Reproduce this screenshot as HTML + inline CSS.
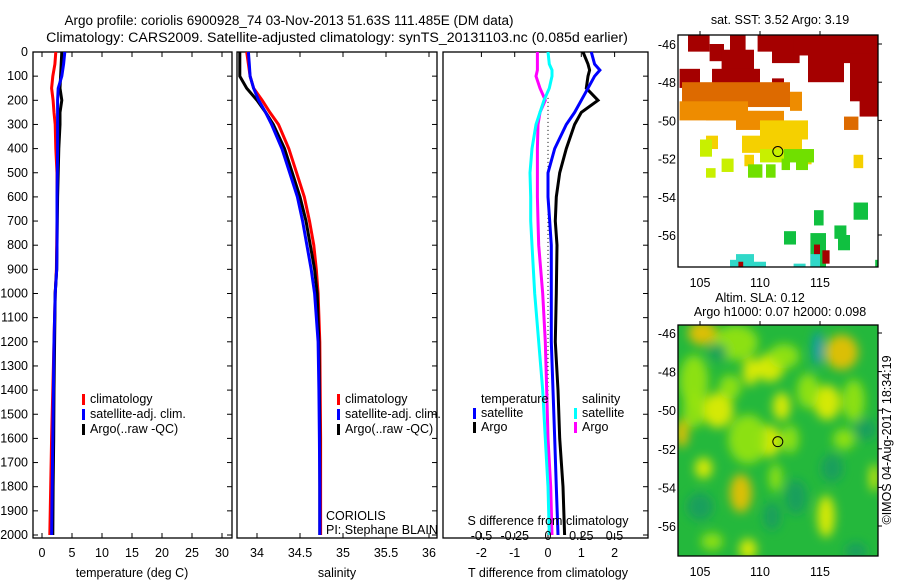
<!DOCTYPE html>
<html><head><meta charset="utf-8"><style>
html,body{margin:0;padding:0;background:#fff;}
svg{display:block;font-family:"Liberation Sans",sans-serif;}
text{font-size:12.5px;fill:#000;}
</style></head><body>
<svg id="fig" width="900" height="580" xmlns="http://www.w3.org/2000/svg">
<defs><filter id="blur" x="-50%" y="-50%" width="200%" height="200%"><feGaussianBlur stdDeviation="5"/></filter>
<clipPath id="clip2"><rect x="678" y="325" width="200" height="231"/></clipPath></defs>
<text x="289" y="25" text-anchor="middle" style="font-size:13.5px">Argo profile: coriolis 6900928_74 03-Nov-2013 51.63S 111.485E (DM data)</text>
<text x="337" y="42" text-anchor="middle" style="font-size:14.2px">Climatology: CARS2009. Satellite-adjusted climatology: synTS_20131103.nc (0.085d earlier)</text>
<text x="780" y="24" text-anchor="middle">sat. SST: 3.52 Argo: 3.19</text>
<text x="760" y="302" text-anchor="middle">Altim. SLA: 0.12</text>
<text x="780" y="316" text-anchor="middle">Argo h1000: 0.07 h2000: 0.098</text>
<text transform="translate(891,440) rotate(-90)" text-anchor="middle">©IMOS 04-Aug-2017 18:34:19</text>
<g id="g"></g>
</svg>
<script>
// ---- data ----
const depths = [0,50,100,150,200,250,300,400,500,600,700,800,900,1000,1200,1400,1600,1800,2000];
const tempClim = [2.3,2.15,1.8,1.6,1.85,2.0,2.2,2.3,2.5,2.5,2.5,2.45,2.4,2.2,2.0,1.8,1.6,1.45,1.3];
const tempSat  = [3.8,3.6,3.3,2.7,2.6,2.6,2.6,2.6,2.55,2.5,2.5,2.5,2.45,2.2,2.0,1.9,1.8,1.7,1.6];
const tempArgo = [3.3,3.2,3.1,3.0,3.3,3.0,3.0,2.8,2.7,2.6,2.55,2.5,2.45,2.2,2.1,2.0,1.95,1.85,1.8];
const salClim = [33.88,33.9,33.92,33.96,34.06,34.15,34.25,34.37,34.46,34.55,34.61,34.66,34.69,34.71,34.73,34.735,34.74,34.74,34.74];
const salSat  = [33.9,33.91,33.92,33.96,34.02,34.1,34.17,34.29,34.38,34.47,34.53,34.58,34.63,34.67,34.71,34.72,34.725,34.73,34.73];
const salArgo = [33.8,33.8,33.8,33.88,34.0,34.1,34.19,34.32,34.41,34.5,34.57,34.62,34.67,34.7,34.72,34.725,34.73,34.73,34.73];
const diffDepths = [0,50,75,100,150,200,250,300,400,500,600,700,800,1000,1200,1400,1600,1800,2000];
const tDiffSat  = [1.3,1.4,1.56,1.4,1.2,1.0,0.8,0.55,0.2,0.0,0.0,0.05,0.1,0.1,0.1,0.15,0.2,0.25,0.3];
const tDiffArgo = [1.05,1.2,1.25,1.2,1.15,1.5,1.0,0.8,0.55,0.35,0.25,0.22,0.27,0.25,0.22,0.3,0.35,0.45,0.5];
const sDiffSat  = [0,0.01,0.03,0.03,0.01,-0.03,-0.06,-0.09,-0.12,-0.135,-0.13,-0.13,-0.12,-0.1,-0.07,-0.04,-0.02,0.0,0.01];
const sDiffArgo = [-0.08,-0.08,-0.08,-0.09,-0.06,-0.02,-0.06,-0.075,-0.08,-0.08,-0.08,-0.075,-0.07,-0.04,-0.02,-0.01,0.0,0.02,0.03];
const depthTicks = [0,100,200,300,400,500,600,700,800,900,1000,1100,1200,1300,1400,1500,1600,1700,1800,1900,2000];
const tempTicks = [0,5,10,15,20,25,30];
const salTicks = [34,34.5,35,35.5,36];
const tDiffTicks = [-2,-1,0,1,2];
const sDiffTicks = [-0.5,-0.25,0,0.25,0.5];
const lonTicks = [105,110,115];
const latTicks = [-46,-48,-50,-52,-54,-56];
// SST cells: [lon1, lat1, lon2, lat2, value]
const sstCells = [
 [104.0,-45.5,105.8,-46.4,4],[105.8,-46.0,107.0,-46.9,4],[107.5,-45.5,108.8,-47.5,4],[106.8,-46.3,109.5,-47.8,4],
 [109.8,-45.5,112.5,-46.4,4],[111.0,-45.5,113.3,-47.0,4],[112.8,-45.5,116.5,-46.6,4],[114.0,-46.0,117.0,-48.0,4],
 [116.5,-45.5,119.8,-47.0,4],[117.5,-46.5,119.8,-49.0,4],[118.3,-48.5,119.8,-49.8,4],[106.0,-47.3,110.0,-48.3,4],
 [103.3,-47.3,105.0,-48.3,4],[111.0,-47.8,112.0,-48.5,4],
 [103.5,-48.0,112.5,-49.3,3.5],[103.3,-49.0,109.0,-50.0,3],[105.5,-49.5,110.0,-50.0,3],[108.0,-49.5,112.0,-50.5,3],
 [112.5,-48.5,113.5,-49.5,3],[117.0,-49.8,118.2,-50.5,3.5],
 [110.0,-50.0,114.0,-51.0,2],[108.5,-50.8,113.5,-51.7,2],[113.5,-51.5,114.3,-52.3,2],[108.7,-51.8,109.5,-52.4,2],
 [105.5,-50.8,106.5,-51.5,2],[117.8,-51.8,118.6,-52.5,2],
 [110.0,-51.5,112.3,-52.2,1.5],[105.0,-51.0,106.0,-51.9,1.5],[106.8,-52.0,107.8,-52.7,1.5],[105.5,-52.5,106.3,-53.0,1.5],
 [112.0,-51.5,114.5,-52.2,1],[109.0,-52.3,110.2,-53.0,1],[110.5,-52.3,111.3,-53.0,1],[111.8,-52.0,112.5,-52.6,1],[113.0,-52.0,114.0,-52.6,1],
 [114.5,-54.7,115.3,-55.5,0.5],[117.8,-54.3,119.0,-55.2,0.5],[112.0,-55.8,113.0,-56.5,0.5],[116.2,-55.5,117.2,-56.2,0.5],
 [116.5,-56.0,117.5,-56.8,0.5],[114.2,-55.9,115.5,-57.8,0.5],[119.6,-57.3,119.9,-57.7,0.5],
 [108.0,-57.0,109.5,-57.8,0],[107.5,-57.3,108.5,-57.8,0],[109.5,-57.4,110.5,-57.8,0],[114.2,-57.0,115.0,-57.8,0],[112.8,-57.5,113.8,-57.8,0],
 [114.5,-56.5,115.0,-57.0,4],[115.2,-56.8,115.8,-57.5,4],[108.2,-57.4,108.6,-57.8,4]
];
// SLA anomaly blobs: [lon, lat, rx(deg), ry(deg), value]
const slaBlobs = [
 [105.2,-46.0,1.3,0.7,3],[108.0,-46.5,2,1,1],[109.2,-48.0,0.7,0.8,2],[110.8,-47.8,1.3,0.8,2],[112,-47.2,1.4,0.7,1],
 [104.5,-48.5,1.3,1.5,1],[106.5,-50.0,1.4,1,2],[104.5,-50.0,1,1,1],[103.5,-51.2,0.6,0.8,3],[107.5,-48.8,1,0.7,1],
 [111.8,-49.8,0.8,0.8,2],[110.8,-51.6,1,0.9,2],[109.0,-51.5,1.8,1.4,1],[112.5,-51.5,0.8,0.8,1],
 [116.8,-47.0,1.5,1.0,3],[115.6,-49.6,1.2,1,2],[117.8,-49.5,1,1.2,1],[114.0,-49.0,1,1,1],
 [105.3,-53.0,0.8,0.6,2],[108.4,-54.3,1,1.1,3],[111.3,-53.5,0.6,0.8,1],[115.5,-55.5,0.8,1.2,2],[119.5,-53.5,0.4,0.8,2],
 [109.0,-57.2,0.8,0.6,2],[117.0,-51.5,1,0.6,1],[106,-56.8,1,0.5,1],
 [114.8,-46.8,0.4,1.0,-2],[118.8,-51.0,1,0.6,-1],[113,-54.5,1,1,-1],[111,-55.5,0.8,0.8,-1],[118,-57.3,1,0.5,-1],[106.5,-47,0.8,0.5,-1],
 [105,-55,1.2,0.8,-1],[116,-53,1,0.8,-1]
];

// ---- helpers ----
const NS = 'http://www.w3.org/2000/svg';
const G = document.getElementById('g');
function el(tag, attrs, parent){const e=document.createElementNS(NS,tag);for(const k in attrs)e.setAttribute(k,attrs[k]);(parent||G).appendChild(e);return e;}
function txt(x,y,s,anchor,parent){const e=el('text',{x:x,y:y,'text-anchor':anchor||'middle'},parent);e.textContent=s;return e;}
const yDepth = d => 52 + d*0.2415;
const xTemp = t => 42 + 6*t;
const xSal = s => 257 + (s-34)*86;
const xTd = t => 548 + 33.3*t;
const xSd = s => 548 + 133*s;
const PB = 538;

function panel(x0,x1,name){
  const r=el('rect',{x:x0,y:52,width:x1-x0,height:PB-52,fill:'none',stroke:'#000','stroke-width':1.3});
  
  
  depthTicks.forEach(d=>{
    const t=el('line',{x1:x1-5,x2:x1,y1:yDepth(d),y2:yDepth(d),stroke:'#000'});
    
    
  });
}
function line(xs,ds,xf,color,name){
  const pts=xs.map((v,i)=>xf(v).toFixed(1)+','+yDepth(ds[i]).toFixed(1)).join(' ');
  const p=el('polyline',{points:pts,fill:'none',stroke:color,'stroke-width':3,'stroke-linejoin':'miter'});
  
  
}
function xticks(ticks,xf,y,labelY,name,fmt){
  ticks.forEach(v=>{
    const t1=el('line',{x1:xf(v),x2:xf(v),y1:52,y2:57,stroke:'#000'});
    
    
    const t2=el('line',{x1:xf(v),x2:xf(v),y1:PB-5,y2:PB,stroke:'#000'});
    
    
    const l=txt(xf(v),labelY,fmt?fmt(v):String(v));
    
    
  });
}
function legendItem(x,y,color,label,name){
  const r=el('rect',{x:x,y:y-9,width:3,height:11,fill:color});
  
  
  const t=txt(x+8,y,label,'start');
  
  
}

// ---- panel 1: temperature ----
panel(33,232,'temperature-panel');
depthTicks.forEach(d=>{
  const l=txt(28,yDepth(d)+4,String(d),'end');
  
  
  const t=el('line',{x1:33,x2:38,y1:yDepth(d),y2:yDepth(d),stroke:'#000'});
  
  
});
xticks(tempTicks,xTemp,PB,557,'temperature-axis');
line(tempClim,depths,xTemp,'#ff0000','temperature-climatology-line');
line(tempArgo,depths,xTemp,'#000000','temperature-argo-line');
line(tempSat,depths,xTemp,'#0000ff','temperature-satellite-line');
const tl=txt(132,577,'temperature (deg C)');


legendItem(82,403,'#ff0000','climatology','temp-legend-climatology');
legendItem(82,418,'#0000ff','satellite-adj. clim.','temp-legend-satellite');
legendItem(82,433,'#000000','Argo(..raw -QC)','temp-legend-argo');

// ---- panel 2: salinity ----
panel(237,437,'salinity-panel');
xticks(salTicks,xSal,PB,557,'salinity-axis');
line(salClim,depths,xSal,'#ff0000','salinity-climatology-line');
line(salArgo,depths,xSal,'#000000','salinity-argo-line');
line(salSat,depths,xSal,'#0000ff','salinity-satellite-line');
const sl=txt(337,577,'salinity');


legendItem(337,403,'#ff0000','climatology','sal-legend-climatology');
legendItem(337,418,'#0000ff','satellite-adj. clim.','sal-legend-satellite');
legendItem(337,433,'#000000','Argo(..raw -QC)','sal-legend-argo');
const c1=txt(326,520,'CORIOLIS','start');


const c2=txt(326,534,'PI: Stephane BLAIN','start');



// ---- panel 3: differences ----
panel(443,648,'difference-panel');
const zl=el('line',{x1:548,x2:548,y1:yDepth(190),y2:PB,stroke:'#000','stroke-dasharray':'1,3'});


xticks(tDiffTicks,xTd,PB,557,'t-difference-axis');
line(sDiffArgo,diffDepths,xSd,'#ff00ff','s-difference-argo-line');
line(sDiffSat,diffDepths,xSd,'#00ffff','s-difference-satellite-line');
line(tDiffArgo,diffDepths,xTd,'#000000','t-difference-argo-line');
line(tDiffSat,diffDepths,xTd,'#0000ff','t-difference-satellite-line');
sDiffTicks.forEach(v=>{
  const l=txt(xSd(v),540,String(v));
  
  
});
const sdt=txt(548,525,'S difference from climatology');


const tdt=txt(548,577,'T difference from climatology');


const lt=txt(481,403,'temperature','start');


const ls=txt(582,403,'salinity','start');


legendItem(473,417,'#0000ff','satellite','diff-legend-t-satellite');
legendItem(473,431,'#000000','Argo','diff-legend-t-argo');
legendItem(574,417,'#00ffff','satellite','diff-legend-s-satellite');
legendItem(574,431,'#ff00ff','Argo','diff-legend-s-argo');

// ---- maps ----
const xLon = lon => 700 + (lon-105)*12;
const yLat1 = lat => 44 + (-46-lat)*19.1;
const yLat2 = lat => 333 + (-46-lat)*19.3;
function sstColor(v){
  if(v>=4) return '#a50000';
  if(v>=3.5) return '#dd6a00';
  if(v>=3) return '#ee8c00';
  if(v>=2) return '#f5d000';
  if(v>=1.5) return '#c8f000';
  if(v>=1) return '#70e000';
  if(v>=0.5) return '#10c040';
  return '#30d8c8';
}
function mapAxes(top,bottom,yLat,name){
  const f=el('rect',{x:678,y:top,width:200,height:bottom-top,fill:'none',stroke:'#000','stroke-width':1.3});
  
  
  lonTicks.forEach(l=>{
    const t=el('line',{x1:xLon(l),x2:xLon(l),y1:top-4,y2:top,stroke:'#000'});
    
    
    const lb=txt(xLon(l),bottom+20,String(l));
    
    
  });
  latTicks.forEach(l=>{
    const t=el('line',{x1:878,x2:882,y1:yLat(l),y2:yLat(l),stroke:'#000'});
    
    
    const lb=txt(676,yLat(l)+5,String(l),'end');
    
    
  });
  const c=el('circle',{cx:xLon(111.485),cy:yLat(-51.63),r:5,fill:'none',stroke:'#000','stroke-width':1});
  
  
}
// SST map
sstCells.forEach(c=>{
  const x1=Math.max(678,xLon(c[0])), x2=Math.min(878,xLon(c[2]));
  const y1=Math.max(35,yLat1(c[1])), y2=Math.min(267,yLat1(c[3]));
  const r=el('rect',{x:x1,y:y1,width:x2-x1,height:y2-y1,fill:sstColor(c[4])});
  
  
});
mapAxes(35,267,yLat1,'sst-map');
// SLA map
const bg=el('rect',{x:678,y:325,width:200,height:231,fill:'#24b83c'});


const bl=el('g',{filter:'url(#blur)','clip-path':'url(#clip2)'});
function slaColor(v){return v>=3?'#f0c000':v>=2?'#e8ee00':v>=1?'#98e410':v>=-1?'#189c60':'#1090d0';}
slaBlobs.forEach(b=>{
  const e=el('ellipse',{cx:xLon(b[0]),cy:yLat2(b[1]),rx:b[2]*11,ry:b[3]*17.5,fill:slaColor(b[4]),opacity:0.9},bl);
  
  
});
mapAxes(325,556,yLat2,'sla-map');
</script>
</body></html>
